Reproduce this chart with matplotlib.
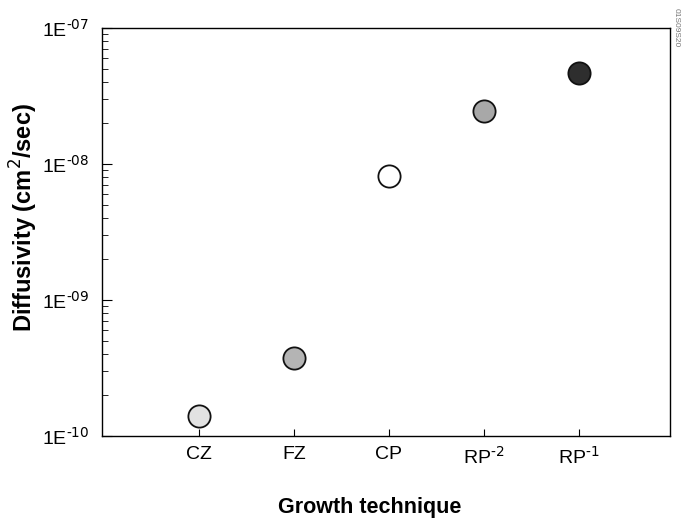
import matplotlib
matplotlib.use("Agg")
import matplotlib.pyplot as plt
from matplotlib.ticker import FixedLocator, LogLocator, NullFormatter

plt.rcParams['font.family'] = ['Liberation Sans', 'DejaVu Sans']

# growth techniques and measured diffusivity
techniques = ['CZ', 'FZ', 'CP', r'RP$^{\text{-2}}$', r'RP$^{\text{-1}}$']
diffusivity = [1.4e-10, 3.75e-10, 8.2e-9, 2.45e-8, 4.7e-8]
face_colors = ['#e2e2e2', '#b4b4b4', '#ffffff', '#a8a8a8', '#2e2e2e']

y_ticks = [1e-10, 1e-9, 1e-8, 1e-7]
y_tick_labels = [r'1E$^{\text{-10}}$', r'1E$^{\text{-09}}$',
                 r'1E$^{\text{-08}}$', r'1E$^{\text{-07}}$']

fig = plt.figure(figsize=(6.82, 5.18), dpi=100)
ax = fig.add_axes([102 / 682, 1 - 436 / 518, 568 / 682, 408 / 518])

xs = list(range(len(techniques)))
for x, y, c in zip(xs, diffusivity, face_colors):
    ax.plot(x, y, 'o', markersize=16, markerfacecolor=c,
            markeredgecolor='#111111', markeredgewidth=1.3, zorder=3)

ax.set_yscale('log')
ax.set_ylim(1e-10, 1e-7)
ax.set_xlim(-1.02, 4.96)

ax.set_xticks(xs)
ax.set_xticklabels(techniques, fontsize=14)
ax.yaxis.set_major_locator(FixedLocator(y_ticks))
ax.set_yticklabels(y_tick_labels, fontsize=14)
ax.yaxis.set_minor_locator(LogLocator(base=10, subs=range(2, 10)))
ax.yaxis.set_minor_formatter(NullFormatter())

ax.tick_params(axis='both', which='both', direction='in', top=False, right=False)
ax.tick_params(axis='y', which='major', length=7, width=0.8, pad=9)
ax.tick_params(axis='y', which='minor', length=4, width=0.6)
ax.tick_params(axis='x', which='major', length=5, width=0.8, pad=7)

for sp in ax.spines.values():
    sp.set_linewidth(1.0)

ax.set_ylabel('Diffusivity (cm$^2$/sec)', fontsize=17, fontweight='bold')
ax.yaxis.set_label_coords(-0.11, 0.535)
ax.set_xlabel('Growth technique', fontsize=15.5, fontweight='bold')
ax.xaxis.set_label_coords(0.472, -0.15)

fig.text(676 / 682, 1 - 28 / 518, '01S09S20', rotation=270, fontsize=6,
         color='#777777', ha='center', va='center')

fig.savefig('out.png', dpi=100)
